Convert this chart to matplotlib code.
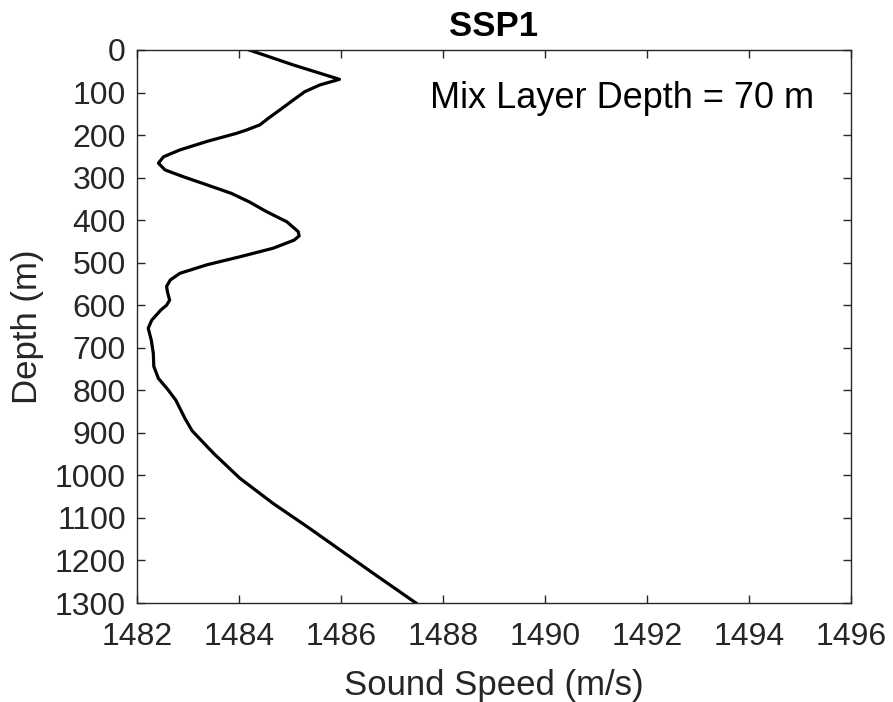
import matplotlib
matplotlib.use('Agg')
import matplotlib.pyplot as plt

plt.rcParams['font.family'] = ['Liberation Sans', 'DejaVu Sans']

# sound speed profile (depth in m, speed in m/s)
depth = [0, 35, 69, 82, 98, 118, 141, 161, 176, 188, 196, 215, 235, 251,
         266, 282, 298, 317, 337, 357, 380, 404, 427, 437, 447, 466, 486,
         505, 525, 541, 556, 570, 588, 600, 611, 635, 654, 682, 713, 744,
         772, 799, 823, 866, 895, 948, 1007, 1066, 1120, 1175, 1230, 1300]
speed = [1484.20, 1485.06, 1485.97, 1485.59, 1485.29, 1485.06, 1484.80,
         1484.57, 1484.41, 1484.15, 1483.95, 1483.37, 1482.84, 1482.52,
         1482.42, 1482.55, 1482.91, 1483.37, 1483.85, 1484.20, 1484.54,
         1484.94, 1485.16, 1485.18, 1485.08, 1484.67, 1484.02, 1483.37,
         1482.84, 1482.65, 1482.58, 1482.60, 1482.64, 1482.58, 1482.47,
         1482.29, 1482.22, 1482.28, 1482.32, 1482.33, 1482.42, 1482.61,
         1482.76, 1482.94, 1483.08, 1483.50, 1484.02, 1484.67, 1485.33,
         1485.98, 1486.63, 1487.47]

mld = 70
x_ticks = list(range(1482, 1497, 2))
y_ticks = list(range(0, 1301, 100))

axis_col = '#262626'

fig = plt.figure(figsize=(8.93, 7.02), dpi=100)
ax = fig.add_axes([0.1534, 0.141, 0.7996, 0.7878])

ax.plot(speed, depth, color='black', linewidth=2.3,
        solid_joinstyle='round')

ax.set_xlim(1482, 1496)
ax.set_ylim(1300, 0)
ax.set_xticks(x_ticks)
ax.set_yticks(y_ticks)

ax.tick_params(direction='in', length=6, width=1, colors=axis_col,
               labelsize=23, top=True, right=True)
ax.tick_params(axis='x', pad=14)
ax.tick_params(axis='y', pad=8)
for s in ax.spines.values():
    s.set_color(axis_col)
    s.set_linewidth(1)

ax.set_xlabel('Sound Speed (m/s)', fontsize=25, color=axis_col, labelpad=12)
ax.set_ylabel('Depth (m)', fontsize=25, color=axis_col, labelpad=8)
ax.set_title('SSP1', fontsize=25, fontweight='bold', pad=10)

ax.text(1487.75, 136, 'Mix Layer Depth = %d m' % mld, fontsize=26,
        va='baseline', ha='left')

fig.savefig('out.png', dpi=100)
